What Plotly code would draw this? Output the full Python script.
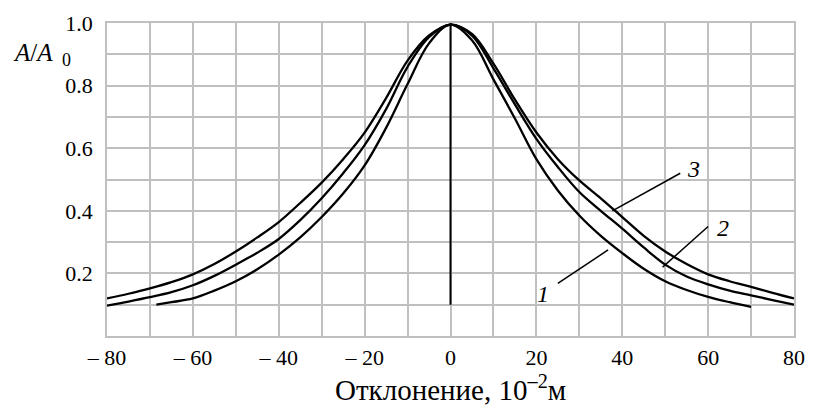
import plotly.graph_objects as go

# ---- data ----
x1 = [-68.5, -65, -60, -55, -50, -45, -40, -35, -30, -25, -20, -15, -10, -5, 0, 5, 10, 15, 20, 25, 30, 35, 40, 45, 50, 55, 60, 65, 70]
y1 = [0.10, 0.108, 0.12, 0.145, 0.175, 0.213, 0.26, 0.315, 0.38, 0.455, 0.545, 0.665, 0.805, 0.935, 0.995, 0.945, 0.82, 0.695, 0.565, 0.465, 0.385, 0.32, 0.265, 0.215, 0.175, 0.147, 0.125, 0.108, 0.093]

x2 = [-80, -75, -70, -65, -60, -55, -50, -45, -40, -35, -30, -25, -20, -15, -10, -5, 0, 5, 10, 15, 20, 25, 30, 35, 40, 45, 50, 55, 60, 65, 70, 75, 80]
y2 = [0.097, 0.11, 0.124, 0.14, 0.162, 0.192, 0.228, 0.266, 0.31, 0.37, 0.44, 0.52, 0.61, 0.725, 0.86, 0.955, 0.995, 0.96, 0.855, 0.74, 0.63, 0.54, 0.46, 0.40, 0.343, 0.283, 0.228, 0.19, 0.165, 0.145, 0.13, 0.115, 0.10]

x3 = [-80, -75, -70, -65, -60, -55, -50, -45, -40, -35, -30, -25, -20, -15, -10, -5, 0, 5, 10, 15, 20, 25, 30, 35, 40, 45, 50, 55, 60, 65, 70, 75, 80]
y3 = [0.12, 0.135, 0.152, 0.172, 0.197, 0.23, 0.27, 0.315, 0.364, 0.425, 0.49, 0.565, 0.65, 0.76, 0.88, 0.96, 0.995, 0.965, 0.87, 0.755, 0.65, 0.565, 0.497, 0.44, 0.38, 0.32, 0.27, 0.23, 0.197, 0.175, 0.157, 0.138, 0.12]

center_x = [0, 0]
center_y = [0.1, 1.0]

x_tickvals = [-80, -60, -40, -20, 0, 20, 40, 60, 80]
x_ticktext = ["– 80", "– 60", "– 40", "– 20", "0", "20", "40", "60", "80"]
x_gridvals = list(range(-80, 81, 10))
y_tickvals = [0.2, 0.4, 0.6, 0.8, 1.0]
y_ticktext = ["0.2", "0.4", "0.6", "0.8", "1.0"]
y_gridvals = [0.1, 0.2, 0.3, 0.4, 0.5, 0.6, 0.7, 0.8, 0.9]

# curve labels: text, text position, leader line (from curve to label)
label_text = ["1", "2", "3"]
label_x = [21.5, 63.5, 56.5]
label_y = [0.135, 0.345, 0.535]
leader_x0 = [36.7, 49.4, 37.7]
leader_y0 = [0.275, 0.22, 0.40]
leader_x1 = [25.0, 60.0, 53.5]
leader_y1 = [0.168, 0.35, 0.52]

FONT = "'Liberation Serif', 'Times New Roman', 'DejaVu Serif', serif"
GRID = "#c0c0c0"

fig = go.Figure()
for xs, ys in [(x1, y1), (x2, y2), (x3, y3)]:
    fig.add_trace(go.Scatter(x=xs, y=ys, mode="lines",
                             line=dict(color="black", width=2.3, shape="spline", smoothing=1.0),
                             showlegend=False, hoverinfo="skip"))
fig.add_trace(go.Scatter(x=center_x, y=center_y, mode="lines",
                         line=dict(color="black", width=2), showlegend=False, hoverinfo="skip"))

for i in range(len(label_text)):
    fig.add_shape(type="line", x0=leader_x0[i], y0=leader_y0[i], x1=leader_x1[i], y1=leader_y1[i],
                  line=dict(color="black", width=1.5), xref="x", yref="y")
    fig.add_annotation(x=label_x[i], y=label_y[i], text="<i>" + label_text[i] + "</i>",
                       showarrow=False, font=dict(family=FONT, size=24, color="black"),
                       xref="x", yref="y")

# axis titles
fig.add_annotation(x=0.5, xref="paper", y=-0.165, yref="paper", yanchor="middle",
                   text="Отклонение, 10<sup>–2</sup>м", showarrow=False,
                   font=dict(family=FONT, size=29, color="black"))
fig.add_annotation(x=-0.14, xref="paper", y=0.907, yref="paper", text="<i>A</i>/<i>A</i>",
                   showarrow=False, font=dict(family=FONT, size=25, color="black"),
                   xanchor="left", yanchor="middle")
fig.add_annotation(x=-0.068, y=0.845, xref="paper", yref="paper", text="0", showarrow=False,
                   font=dict(family=FONT, size=18, color="black"), xanchor="left", yanchor="bottom")

fig.update_layout(
    width=816, height=412,
    margin=dict(l=107, r=11, t=14, b=76),
    paper_bgcolor="white", plot_bgcolor="white",
    font=dict(family=FONT, size=22, color="black"),
    xaxis=dict(range=[-80, 80], tickvals=x_tickvals, ticktext=x_ticktext,
               tickfont=dict(family=FONT, size=22, color="black"),
               showgrid=True, gridcolor=GRID, gridwidth=1.5,
               minor=dict(tickvals=x_gridvals, showgrid=True, gridcolor=GRID, gridwidth=1.5, ticks=""),
               showline=True, linecolor=GRID, linewidth=1.5, mirror=True,
               zeroline=False, ticks="", ticklabelstandoff=1),
    yaxis=dict(range=[0, 1.0], tickvals=y_tickvals, ticktext=y_ticktext,
               tickfont=dict(family=FONT, size=22, color="black"),
               showgrid=True, gridcolor=GRID, gridwidth=1.5,
               minor=dict(tickvals=y_gridvals, showgrid=True, gridcolor=GRID, gridwidth=1.5, ticks=""),
               showline=True, linecolor=GRID, linewidth=1.5, mirror=True,
               zeroline=False, ticks="", ticklabelstandoff=8),
)

fig.write_html("out.html", config={"displayModeBar": False},
               post_script="document.body.style.margin='0';document.body.style.padding='0';")
